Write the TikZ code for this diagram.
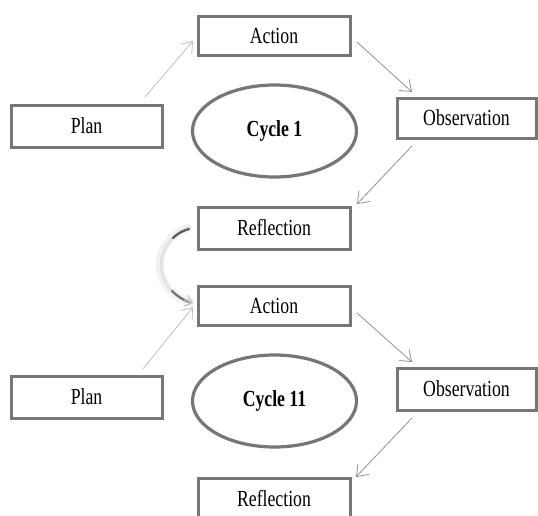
\documentclass[tikz,border=0pt]{standalone}
\usepackage{fontspec}
\setmainfont[FakeStretch=0.77]{Liberation Serif}
\usetikzlibrary{arrows.meta,shapes.geometric}
\definecolor{boxgray}{RGB}{118,118,118}
\definecolor{arrgray}{RGB}{145,145,145}
\definecolor{arrlight}{RGB}{190,190,190}
\tikzset{
  stepbox/.style={draw=boxgray, line width=3pt, fill=white, inner sep=0pt, font=\fontsize{23}{26}\selectfont},
  cyc/.style={draw=boxgray, line width=3.2pt, ellipse, inner sep=0pt, font=\bfseries\fontsize{23}{26}\selectfont},
  flow/.style={draw=arrgray, line width=0.8pt, -{Straight Barb[length=10pt,width=15pt,line width=0.8pt]}},
  flowlight/.style={flow, draw=arrlight},
}
\begin{document}
\begin{tikzpicture}[x=1pt,y=-1pt]
\useasboundingbox (0,0) rectangle (538,515);
\clip (0,0) rectangle (538,515);
% Cycle 1
\node[stepbox, minimum width=152pt, minimum height=39pt] (act1) at (274,36) {Action};
\node[stepbox, minimum width=151pt, minimum height=42pt] (plan1) at (86.5,126) {Plan};
\node[stepbox, minimum width=139pt, minimum height=40pt] (obs1) at (466.5,118) {Observation};
\node[stepbox, minimum width=152pt, minimum height=42pt] (ref1) at (274,228) {Reflection};
\node[cyc, minimum width=164pt, minimum height=92pt] (cyc1) at (274.5,131) {Cycle 1};
% Cycle 11
\node[stepbox, minimum width=152pt, minimum height=39pt] (act2) at (274,306) {Action};
\node[stepbox, minimum width=151pt, minimum height=42pt] (plan2) at (86.5,397) {Plan};
\node[stepbox, minimum width=139pt, minimum height=42pt] (obs2) at (466.5,389) {Observation};
\node[stepbox, minimum width=152pt, minimum height=42pt] (ref2) at (274,499) {Reflection};
\node[cyc, minimum width=164pt, minimum height=92pt] (cyc2) at (274.5,401) {Cycle 11};
% arrows cycle 1
\coordinate (p1s) at (145,97);
\coordinate (a1t) at (193,41);
\draw[flowlight] (p1s) -- (a1t);
\coordinate (a1s) at (357,42);
\coordinate (o1t) at (412,92);
\draw[flow] (a1s) -- (o1t);
\coordinate (o1s) at (412,146);
\coordinate (r1t) at (357,204);
\draw[flow] (o1s) -- (r1t);
% arrows cycle 11
\coordinate (p2s) at (143,369);
\coordinate (a2t) at (193,307);
\draw[flowlight] (p2s) -- (a2t);
\coordinate (a2s) at (357,313);
\coordinate (o2t) at (412,362);
\draw[flow] (a2s) -- (o2t);
\coordinate (o2s) at (412,418);
\coordinate (r2t) at (356,477);
\draw[flow] (o2s) -- (r2t);
% curved transition arrow
\coordinate (cs) at (191,227);
\coordinate (ce) at (193,303);
\draw[line width=8pt, color=black!5] (cs) .. controls (150,238) and (148,292) .. (ce);
\draw[line width=3pt, color=black!11] (cs) .. controls (152,239) and (150,291) .. (ce);
\draw[line width=2.2pt, color=black!65, line cap=round] (189,229) .. controls (182,231) and (177,234) .. (173,238);
\draw[line width=2.2pt, color=black!55, line cap=round] (172,291) .. controls (177,296) and (183,300) .. (189,302);
\draw[line width=1pt, color=black!25, -{Straight Barb[length=7pt,width=12pt]}] (184,300) -- (ce);
\end{tikzpicture}
\end{document}
